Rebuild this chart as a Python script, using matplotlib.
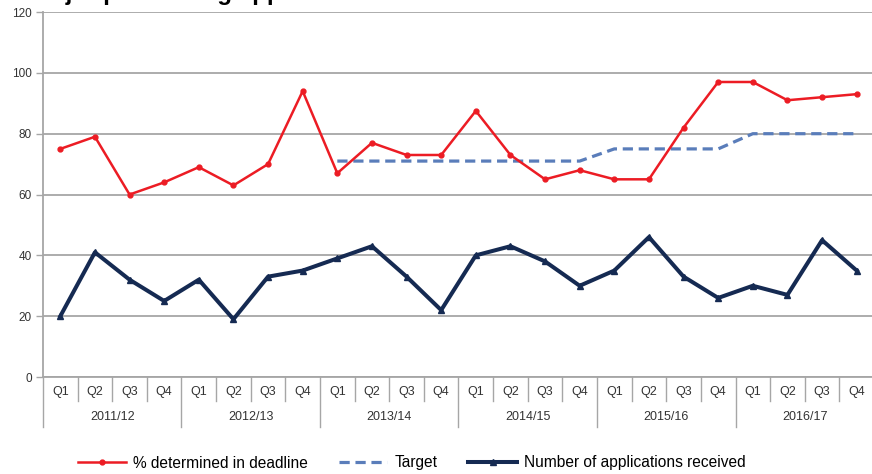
"""Major planning applications: determination rate, target and volume by quarter."""

import matplotlib
matplotlib.use("Agg")
import matplotlib.pyplot as plt
import matplotlib.transforms as mtransforms

plt.rcParams["font.family"] = ["Liberation Sans", "DejaVu Sans"]

years = ["2011/12", "2012/13", "2013/14", "2014/15", "2015/16", "2016/17"]
quarters = ["Q1", "Q2", "Q3", "Q4"]

pct_determined = [75, 79, 60, 64, 69, 63, 70, 94, 67, 77, 73, 73,
                  87.5, 73, 65, 68, 65, 65, 82, 97, 97, 91, 92, 93]
target = [None] * 8 + [71, 71, 71, 71, 71, 71, 71, 71, 75, 75, 75, 75, 80, 80, 80, 80]
applications = [20, 41, 32, 25, 32, 19, 33, 35, 39, 43, 33, 22,
                40, 43, 38, 30, 35, 46, 33, 26, 30, 27, 45, 35]

RED = "#ec1c24"
NAVY = "#152a52"
TARGET_BLUE = "#5a7dba"
GRID = "#a6a6a6"
TEXT = "#333333"

x = list(range(len(pct_determined)))
tx = [i for i, v in enumerate(target) if v is not None]
ty = [v for v in target if v is not None]

fig = plt.figure(figsize=(8.72, 4.74), dpi=100)
ax = fig.add_axes([0.0493, 0.2046, 0.953, 0.770])

ax.plot(x, pct_determined, color=RED, lw=1.8, marker="o", ms=3.5,
        label="% determined in deadline", zorder=4)
ax.plot(tx, ty, color=TARGET_BLUE, lw=2.3, ls=(0, (3.2, 1.8)),
        label="Target", zorder=3)
ax.plot(x, applications, color=NAVY, lw=2.9, marker="^", ms=4,
        label="Number of applications received", zorder=4)

ax.set_xlim(-0.5, len(x) - 0.5)
ax.set_ylim(0, 120)
ax.set_yticks(range(0, 121, 20))
ax.yaxis.grid(True, color=GRID, lw=1.3)
ax.set_axisbelow(True)
for side in ("top", "right"):
    ax.spines[side].set_visible(False)
for side in ("left", "bottom"):
    ax.spines[side].set_color(GRID)
    ax.spines[side].set_linewidth(1.3)
ax.tick_params(axis="y", length=5, width=1, color=GRID, labelsize=8.5,
               labelcolor=TEXT, pad=3)
ax.set_xticks([])

# two-level category axis: quarters above, financial years below
trans = mtransforms.blended_transform_factory(ax.transData, ax.transAxes)
for i, q in enumerate(quarters * len(years)):
    ax.text(i, -0.042, q, transform=trans, ha="center", va="center",
            fontsize=9, color=TEXT)
    if i % 4 != 0:
        ax.plot([i - 0.5, i - 0.5], [0, -0.065], transform=trans,
                color=GRID, lw=1, clip_on=False)
for j, yr in enumerate(years):
    ax.text(j * 4 + 1.5, -0.11, yr, transform=trans, ha="center", va="center",
            fontsize=9, color=TEXT)
    ax.plot([j * 4 - 0.5, j * 4 - 0.5], [0, -0.138], transform=trans,
            color=GRID, lw=1, clip_on=False)

fig.legend(loc="center", bbox_to_anchor=(0.472, 11 / 474), ncol=3,
           frameon=False, fontsize=11.2, handlelength=3.1, columnspacing=2.0,
           handletextpad=0.45)

# title is cropped in the source: only its descenders show along the top edge
fig.text(32 / 872, 1.0, "Major processing applications", ha="left",
         va="baseline", fontsize=17.4, fontweight="bold", color="black")

fig.savefig("out.png", dpi=100)
